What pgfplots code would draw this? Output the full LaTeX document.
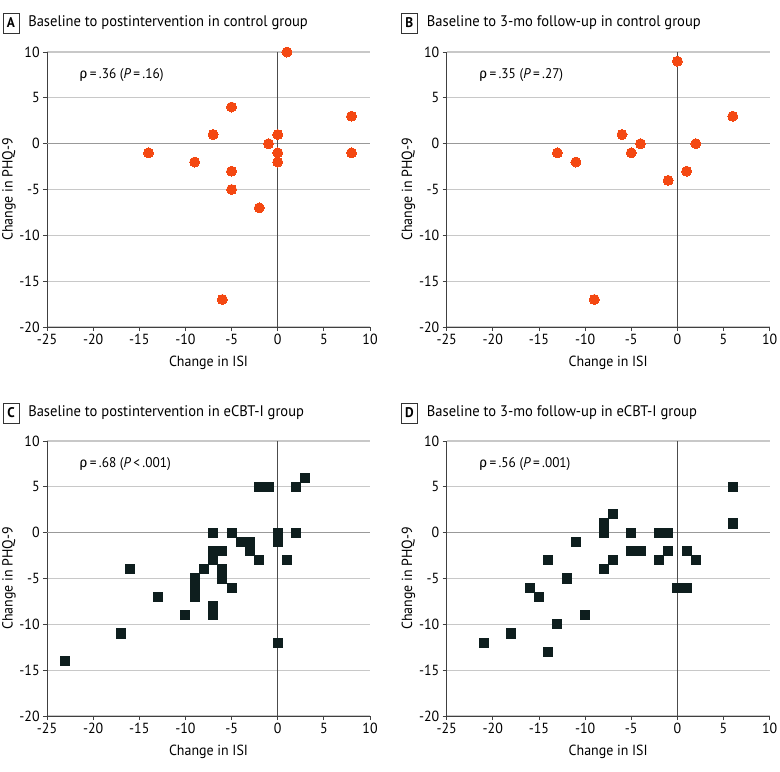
\documentclass[border=0pt]{standalone}
\usepackage{fontspec}
\setmainfont{PT Sans}[FakeStretch=0.95]
\newfontfamily\grk{Fira Sans}
\usepackage{pgfplots}
\pgfplotsset{compat=1.18}
\definecolor{dotorange}{RGB}{244,72,18}
\definecolor{sqdark}{RGB}{14,30,30}
\definecolor{gridgray}{RGB}{200,200,200}

\pgfplotsset{
 panel/.style={
  scale only axis, width=242.25pt, height=206.25pt,
  xmin=-25,xmax=10,ymin=-20,ymax=10,
  xtick={-25,-20,...,10}, ytick={-20,-15,...,10},
  axis x line*=bottom, axis y line*=left,
  axis line style={black!75, line width=0.6pt},
  tick style={black!75, line width=0.6pt},
  tick align=outside, major tick length=3pt,
  ymajorgrids, grid style={gridgray, line width=0.8pt},
  /pgf/number format/assume math mode=true,
  ticklabel style={font=\fontsize{11}{13}\selectfont},
  xticklabel style={yshift=1pt},
  yticklabel style={xshift=1pt},
  xlabel={Change in ISI}, ylabel={Change in PHQ-9},
  every axis x label/.style={at={(axis description cs:0.5,-0.131)},anchor=center,font=\fontsize{11}{13}\selectfont},
  every axis y label/.style={at={(axis description cs:-0.118,0.5)},rotate=90,anchor=center,font=\fontsize{11}{13}\selectfont},
  clip=false,
 },
 dots/.style={only marks, mark=*, mark size=3.75pt, mark options={fill=dotorange, draw=dotorange, line width=0pt}},
 squares/.style={only marks, mark=square*, mark size=3.4pt, mark options={fill=sqdark, draw=sqdark, line width=0pt}},
}

\pgfplotstableread{
x y
1 10
-5 4
-7 1
8 3
0 1
-1 0
-14 -1
0 -1
8 -1
-9 -2
0 -2
-5 -3
-5 -5
-2 -7
-6 -17
}\dataA

\pgfplotstableread{
x y
0 9
6 3
-6 1
-4 0
2 0
-13 -1
-5 -1
-11 -2
1 -3
-1 -4
-9 -17
}\dataB

\pgfplotstableread{
x y
3 6
-2 5
-1 5
2 5
-7 0
-5 0
0 0
2 0
-4 -1
-3 -1
0 -1
-7 -2
-6 -2
-3 -2
-7 -3
-2 -3
1 -3
-8 -4
-6 -4
-16 -4
-9 -5
-6 -5
-9 -6
-5 -6
-9 -7
-13 -7
-7 -8
-7 -9
-10 -9
-17 -11
0 -12
-23 -14
}\dataC

\pgfplotstableread{
x y
6 5
6 1
-7 2
-8 1
-8 0
-5 0
-2 0
-1 0
-11 -1
-5 -2
-4 -2
-1 -2
1 -2
-14 -3
-7 -3
-2 -3
2 -3
-8 -4
-12 -5
-16 -6
0 -6
1 -6
-15 -7
-10 -9
-13 -10
-18 -11
-21 -12
-14 -13
}\dataD

\newcommand{\zerolines}{%
  \addplot[black!40, line width=0.8pt] coordinates {(-25,0) (10,0)};
  \addplot[black!70, line width=0.6pt] coordinates {(0,-20) (0,10)};
}

\begin{document}
\begin{tikzpicture}
\path[use as bounding box] (0,0) rectangle (585pt,-578.25pt);

\begin{axis}[panel, at={(35.25pt,-39pt)}, anchor=north west]
\zerolines
\addplot[dots] table {\dataA};
\node[anchor=west, font=\fontsize{10.5}{12}\selectfont] at (axis cs:-22,7.5) {{\grk ρ}\,=\,.36 (\textit{P}\,=\,.16)};
\end{axis}

\begin{axis}[panel, at={(335pt,-39pt)}, anchor=north west]
\zerolines
\addplot[dots] table {\dataB};
\node[anchor=west, font=\fontsize{10.5}{12}\selectfont] at (axis cs:-22,7.5) {{\grk ρ}\,=\,.35 (\textit{P}\,=\,.27)};
\end{axis}

\begin{axis}[panel, at={(35.25pt,-330.75pt)}, anchor=north west]
\zerolines
\addplot[squares] table {\dataC};
\node[anchor=west, font=\fontsize{10.5}{12}\selectfont] at (axis cs:-22,7.5) {{\grk ρ}\,=\,.68 (\textit{P}\,<\,.001)};
\end{axis}

\begin{axis}[panel, at={(335pt,-330.75pt)}, anchor=north west]
\zerolines
\addplot[squares] table {\dataD};
\node[anchor=west, font=\fontsize{10.5}{12}\selectfont] at (axis cs:-22,7.5) {{\grk ρ}\,=\,.56 (\textit{P}\,=\,.001)};
\end{axis}

\tikzset{lbl/.style={draw=black!80, line width=0.6pt, minimum width=12pt, minimum height=15pt, inner sep=0pt, font=\bfseries\fontsize{10.5}{12}\selectfont},
         ttl/.style={anchor=west, inner sep=0pt, font=\fontsize{11.5}{13}\selectfont}}
\node[lbl] at (8.25pt,-17.25pt) {A};
\node[ttl] at (21pt,-17.25pt) {Baseline to postintervention in control group};
\node[lbl] at (307pt,-17.25pt) {B};
\node[ttl] at (320pt,-17.25pt) {Baseline to 3-mo follow-up in control group};
\node[lbl] at (8.25pt,-309.75pt) {C};
\node[ttl] at (21pt,-309.75pt) {Baseline to postintervention in eCBT-I group};
\node[lbl] at (307pt,-309.75pt) {D};
\node[ttl] at (320pt,-309.75pt) {Baseline to 3-mo follow-up in eCBT-I group};
\end{tikzpicture}
\end{document}
